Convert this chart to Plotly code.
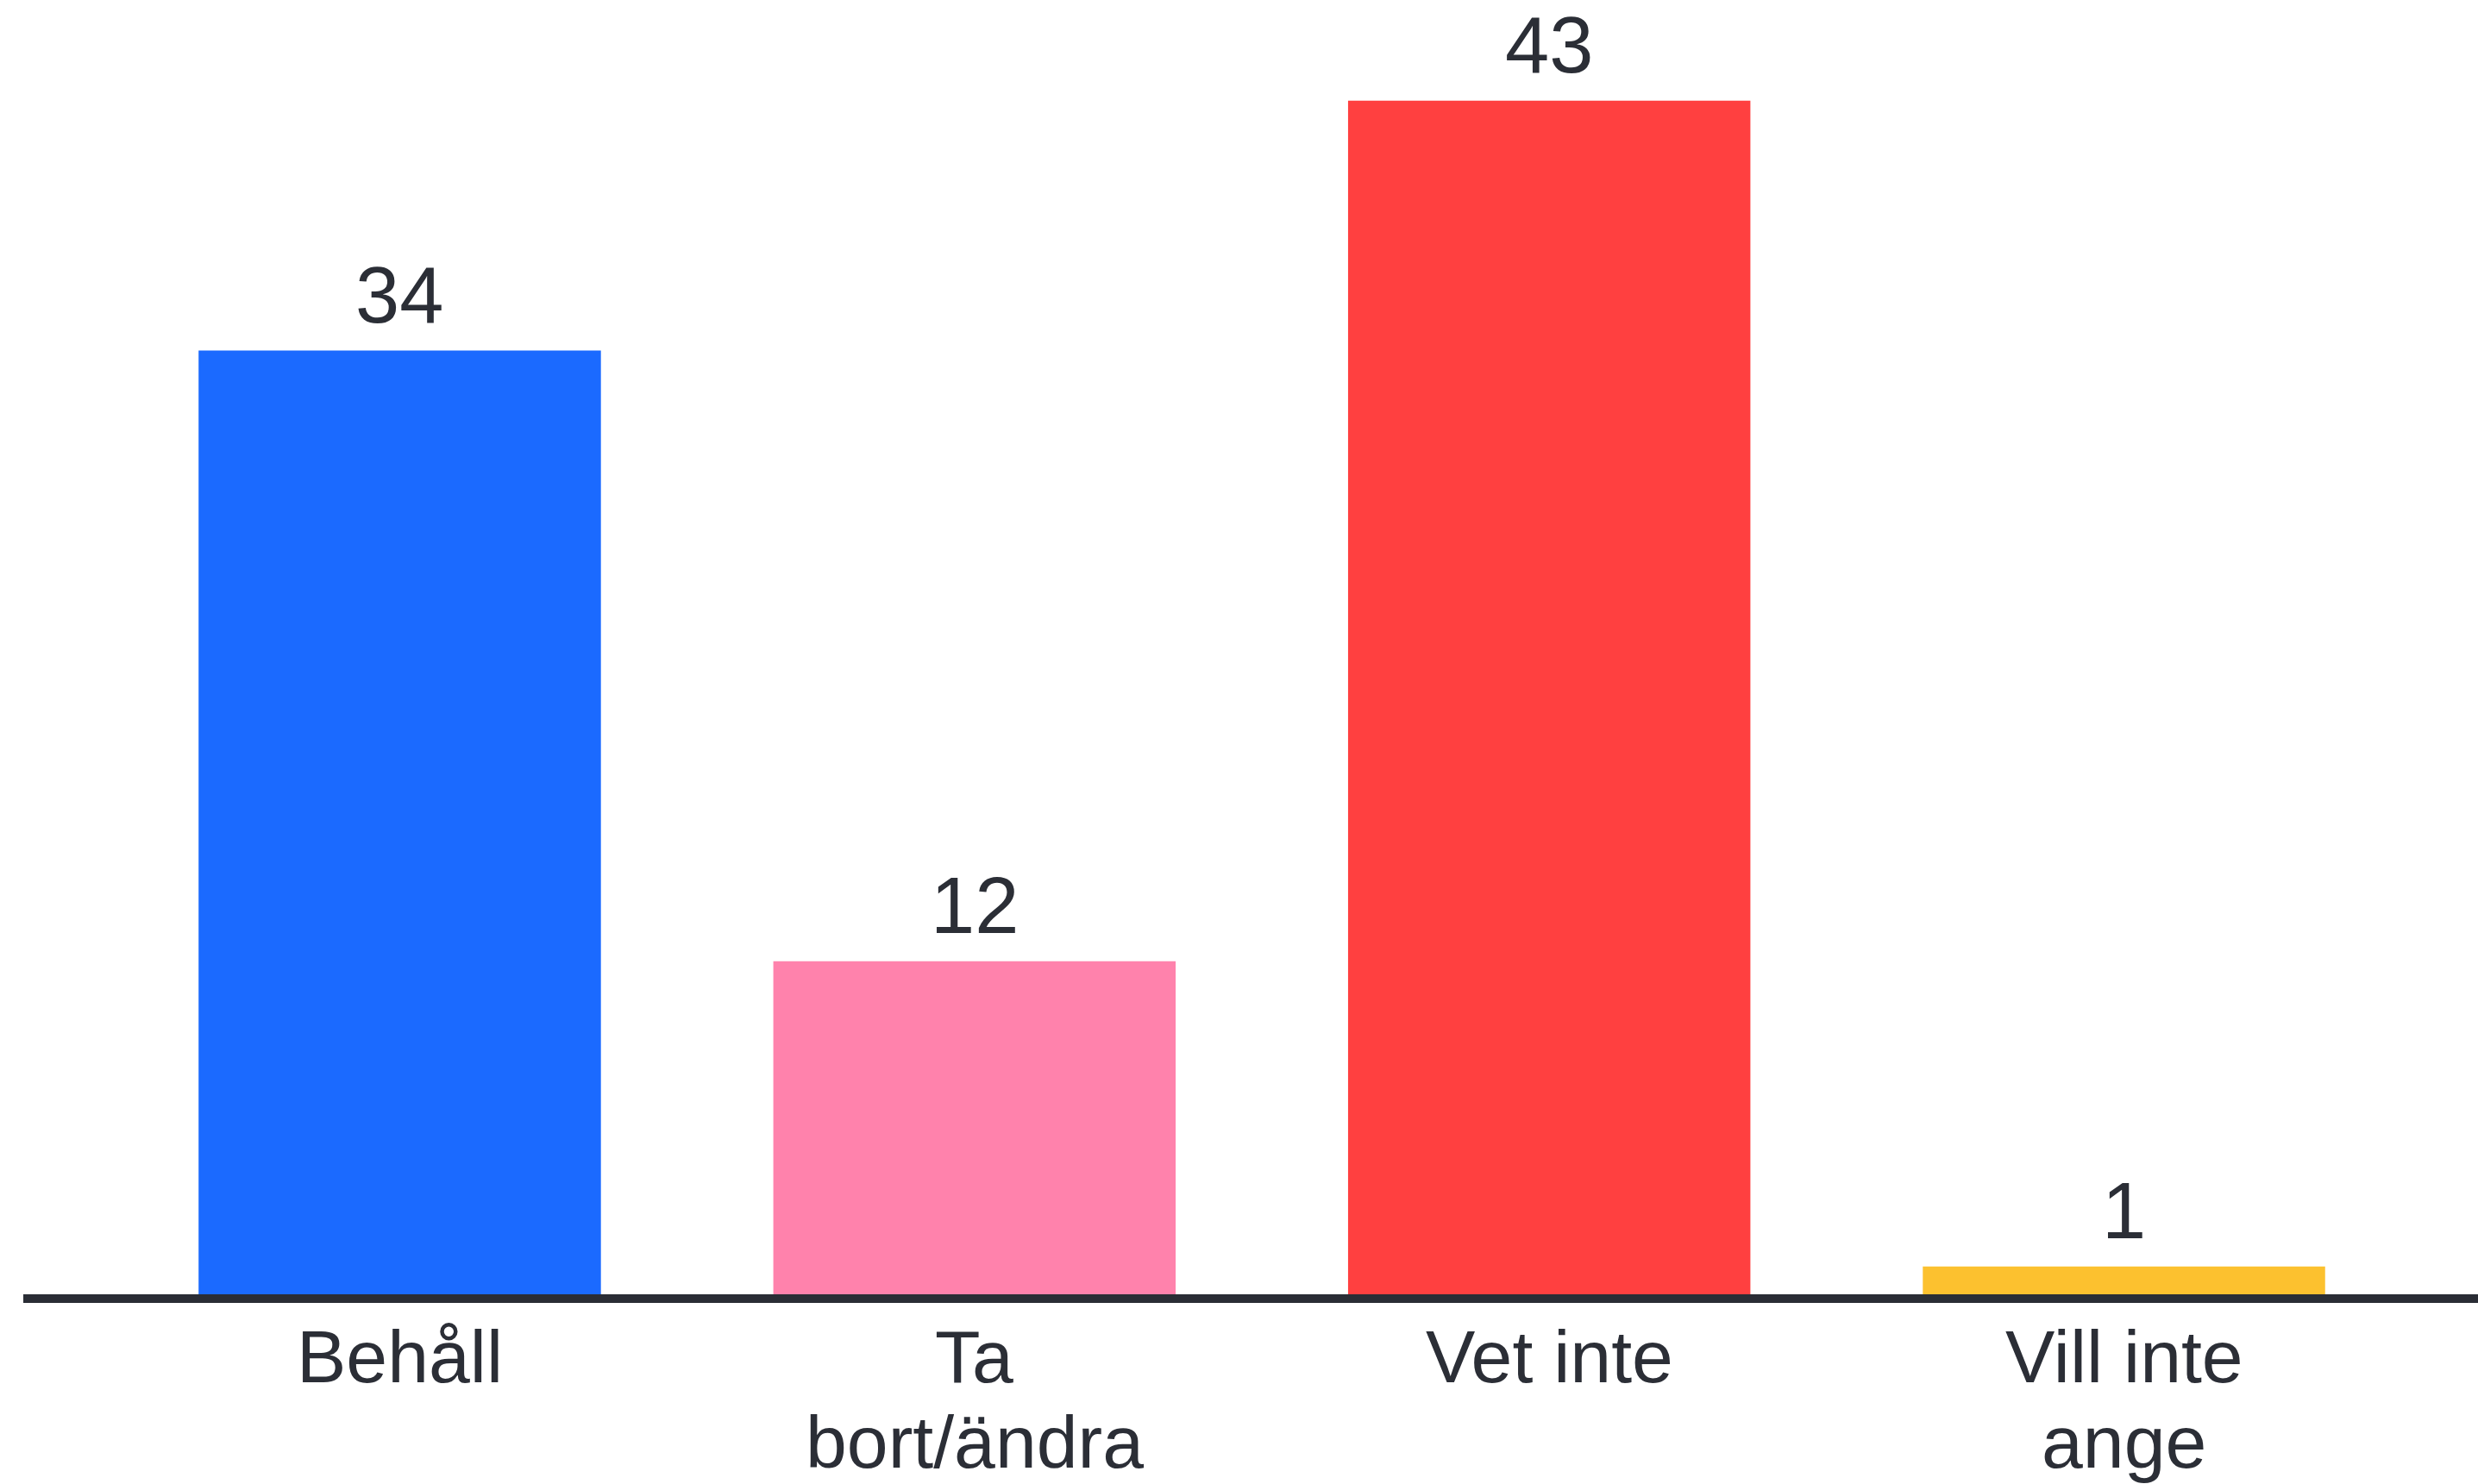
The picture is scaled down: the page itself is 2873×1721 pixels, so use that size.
import plotly.graph_objects as go

categories = ["Behåll", "Ta<br>bort/ändra", "Vet inte", "Vill inte<br>ange"]
values = [34, 12, 43, 1]
colors = ["#1B6AFF", "#FF82AC", "#FF4040", "#FCC12F"]

text_color = "#2B2E36"
FONT = "Liberation Sans, Arial, sans-serif"
xs = list(range(len(categories)))

fig = go.Figure(
    go.Bar(
        x=xs,
        y=values,
        width=0.7,
        marker=dict(color=colors, line=dict(width=0)),
        hoverinfo="skip",
    )
)

annotations = []
# value labels above bars
for x, v in zip(xs, values):
    annotations.append(dict(
        x=x, y=v, xref="x", yref="y", text=str(v), showarrow=False,
        xanchor="center", yanchor="bottom", yshift=12,
        font=dict(family=FONT, size=92, color=text_color),
    ))
# category labels (one annotation per line for tight line spacing)
line_shifts = [-22, -121]
for x, cat in zip(xs, categories):
    for i, line in enumerate(cat.split("<br>")):
        annotations.append(dict(
            x=x, y=0, xref="x", yref="paper", text=line, showarrow=False,
            xanchor="center", yanchor="top", yshift=line_shifts[i],
            font=dict(family=FONT, size=86, color=text_color),
        ))

fig.update_layout(
    width=2873,
    height=1721,
    margin=dict(l=27, r=0, t=0, b=220),
    paper_bgcolor="white",
    plot_bgcolor="white",
    showlegend=False,
    font=dict(family=FONT, color=text_color),
    annotations=annotations,
)

fig.update_xaxes(
    range=[-0.655, 3.616],
    tickvals=xs,
    showticklabels=False,
    showline=True,
    linecolor="#2A2D35",
    linewidth=10,
    showgrid=False,
    zeroline=False,
    ticks="",
)

fig.update_yaxes(
    range=[0, 46.63],
    visible=False,
    showgrid=False,
    zeroline=False,
)

fig.write_html(
    "out.html",
    config={"displayModeBar": False},
    post_script="document.body.style.margin='0';document.documentElement.style.overflow='hidden';",
)
